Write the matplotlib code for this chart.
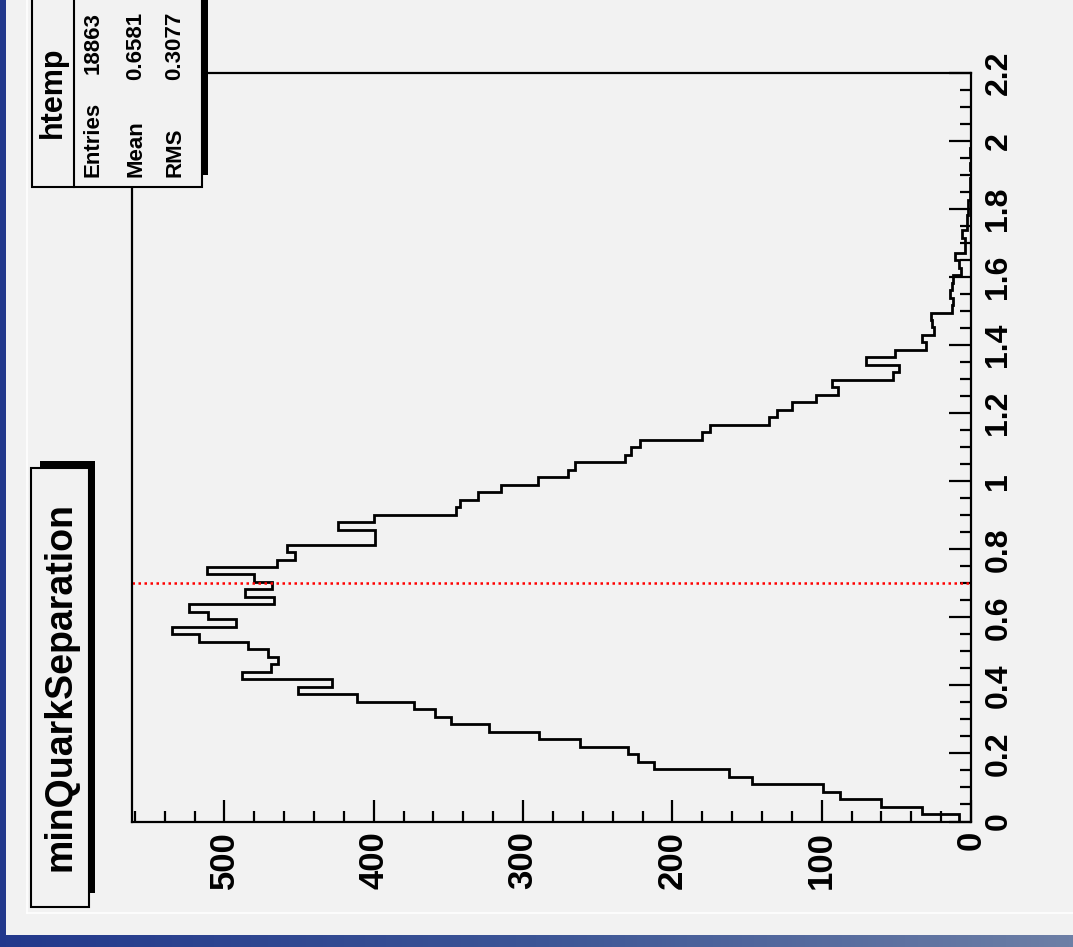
import numpy as np
import matplotlib.pyplot as plt
from matplotlib.patches import Rectangle
from matplotlib.lines import Line2D
from matplotlib.colors import LinearSegmentedColormap

plt.rcParams['font.family'] = ['Liberation Sans', 'DejaVu Sans']
plt.rcParams['font.weight'] = 'bold'

# htemp : minQuarkSeparation, 100 bins from 0 to 2.2
bin_lo, bin_hi, n_bins = 0.0, 2.2, 100
counts = [
    8, 33, 60, 88, 99, 147, 162, 212, 223, 230,
    262, 289, 323, 348, 359, 373, 411, 451, 428, 488,
    469, 464, 471, 484, 517, 535, 492, 511, 524, 467,
    486, 468, 480, 512, 465, 453, 458, 399, 399, 424,
    400, 345, 342, 330, 315, 290, 270, 265, 232, 228,
    222, 180, 175, 135, 130, 120, 104, 89, 93, 52,
    48, 70, 51, 30, 33, 25, 26, 27, 13, 12,
    14, 13, 12, 7, 8, 11, 4, 4, 6, 3,
    3, 2, 2, 1, 1, 1, 0, 1, 0, 1,
    0, 0, 0, 0, 0, 0, 0, 0, 0, 0,
]
cut_value = 0.7

hist_name = 'htemp'
title = 'minQuarkSeparation'
stat_names = ['Entries', 'Mean', 'RMS']
stat_values = ['18863', '0.6581', '0.3077']

count_ticks = [0, 100, 200, 300, 400, 500]
sep_ticks = [0, 0.2, 0.4, 0.6, 0.8, 1.0, 1.2, 1.4, 1.6, 1.8, 2.0, 2.2]
sep_labels = ['0', '0.2', '0.4', '0.6', '0.8', '1', '1.2', '1.4', '1.6', '1.8', '2', '2.2']

W, H = 1073, 947
pad_col = '#f2f2f2'
fig = plt.figure(figsize=(W / 100, H / 100), dpi=100)
fig.patch.set_facecolor(pad_col)


def box(x0, y0, x1, y1, **kw):
    # rectangle in pixel units measured from the top-left corner
    r = Rectangle((x0 / W, 1 - y1 / H), (x1 - x0) / W, (y1 - y0) / H,
                  transform=fig.transFigure, **kw)
    fig.add_artist(r)
    return r


# canvas border
box(0, 0, 6, H, color='#22388c', lw=0, zorder=0.5)
ax_bg = fig.add_axes([0, 0, 1, 12 / H])
grad = np.linspace(0, 1, 256)[None, :]
cm = LinearSegmentedColormap.from_list('border', ['#23398c', '#3c5596', '#6d7fa6'])
ax_bg.imshow(grad, aspect='auto', cmap=cm, extent=[0, 1, 0, 1])
ax_bg.set_axis_off()
fig.add_artist(Line2D([27 / W, 1], [1 - 913 / H] * 2, transform=fig.transFigure,
                      color='white', lw=1.2, zorder=0.5))
fig.add_artist(Line2D([27 / W] * 2, [1 - 913 / H, 1], transform=fig.transFigure,
                      color='white', lw=1.2, zorder=0.5))

# histogram frame, drawn rotated: counts run right to left, separation bottom to top
ax = fig.add_axes([132 / W, (H - 821.5) / H, 839 / W, 748.5 / H])
ax.set_facecolor(pad_col)
edges = np.linspace(bin_lo, bin_hi, n_bins + 1)
ax.stairs(counts, edges, orientation='horizontal', color='black', lw=2)
ax.axhline(cut_value, color='red', ls=(0, (1, 1.4)), lw=1.8)

ax.set_xlim(561.9, 0)
ax.set_ylim(bin_lo, bin_hi)
for s in ax.spines.values():
    s.set_linewidth(1.6)

ax.yaxis.tick_right()
ax.set_yticks(sep_ticks)
ax.set_yticklabels(sep_labels, rotation=90, va='center', ha='left')
ax.set_yticks(np.arange(0, 2.2001, 0.05), minor=True)
ax.set_xticks(count_ticks)
ax.set_xticklabels([str(c) for c in count_ticks], rotation=90)
ax.set_xticks(np.arange(0, 561, 20), minor=True)
ax.tick_params(which='major', direction='in', length=16, width=1.6)
ax.tick_params(which='minor', direction='in', length=8, width=1.6)
ax.tick_params(axis='x', which='both', top=False, bottom=True, labelsize=25, pad=7)
ax.tick_params(axis='y', which='both', left=False, right=True, labelsize=23, pad=9)

# title box with shadow
box(40, 461, 95, 893, color='black', lw=0, zorder=2)
box(31, 468, 89, 907, facecolor=pad_col, edgecolor='black', lw=1.5, zorder=2.1)
fig.text(61 / W, 1 - 686 / H, title, rotation=90, ha='center', va='center',
         fontsize=27, zorder=3)

# statistics box
box(40, -5, 208, 175, color='black', lw=0, zorder=2)
box(32, -5, 202, 187, facecolor=pad_col, edgecolor='black', lw=1.5, zorder=2.1)
fig.add_artist(Line2D([74 / W] * 2, [1 - 187 / H, 1], transform=fig.transFigure,
                      color='black', lw=1.5, zorder=2.2))
fig.text(53 / W, 1 - 92 / H, hist_name, rotation=90, ha='center', va='center',
         fontsize=22, zorder=3)
for xc, name, val in zip([93, 136, 175], stat_names, stat_values):
    fig.text(xc / W, 1 - 177 / H, name, rotation=90, ha='center', va='bottom',
             fontsize=16, zorder=3)
    fig.text(xc / W, 1 - 12 / H, val, rotation=90, ha='center', va='top',
             fontsize=16, zorder=3)

fig.savefig('out.png', dpi=100, facecolor=fig.get_facecolor())
